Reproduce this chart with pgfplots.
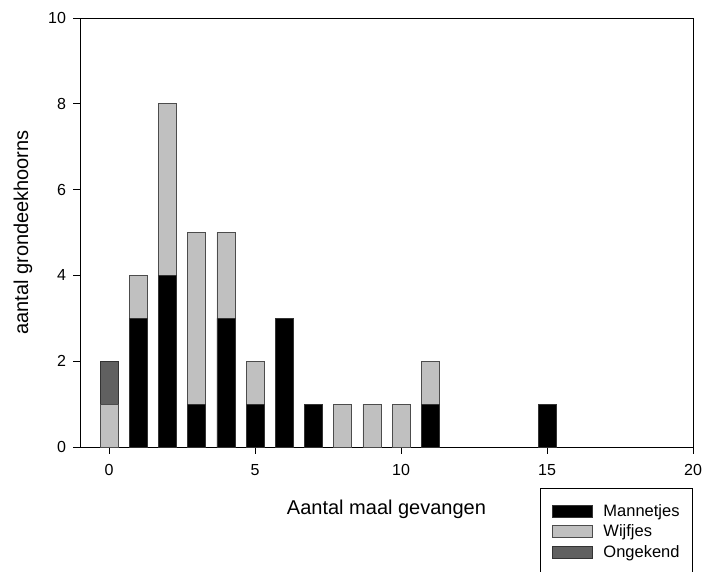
\documentclass[border=0pt]{standalone}
\usepackage{pgfplots}
\pgfplotsset{compat=1.18}
\usepackage{fontspec}
\setmainfont{Liberation Sans}
\definecolor{wgray}{HTML}{C0C0C0}
\definecolor{ogray}{HTML}{606060}
\begin{document}
\begin{tikzpicture}
\begin{axis}[
  scale only axis,
  width=613pt, height=429pt,
  xmin=-1, xmax=20, ymin=0, ymax=10,
  enlargelimits=false,
  xtick={0,5,10,15,20}, ytick={0,2,4,6,8,10},
  tick pos=left, tick align=outside,
  major tick length=6.5pt,
  every tick/.style={black, line width=0.8pt},
  axis line style={line width=0.8pt},
  /pgf/number format/assume math mode=true,
  ticklabel style={font=\fontsize{16}{19}\selectfont},
  xticklabel style={yshift=-7pt},
  yticklabel style={xshift=-4pt},
  xlabel={Aantal maal gevangen},
  ylabel={aantal grondeekhoorns},
  label style={font=\fontsize{20}{24}\selectfont},
  xlabel style={at={(axis description cs:0.5,-0.1585)}, anchor=base},
  ylabel style={at={(axis description cs:-0.0848,0.5)}, anchor=base},
  ybar stacked, bar width=18pt,
  legend cell align=left,
  legend image code/.code={\draw[#1] (0pt,-6pt) rectangle (40pt,6pt);},
  legend style={at={(axis description cs:1,-0.0956)}, anchor=north east,
    draw=black, line width=0.8pt,
    font=\fontsize{16.5}{19}\selectfont,
    inner xsep=11pt, inner ysep=14pt,
    row sep=3pt,
    /tikz/every odd column/.append style={column sep=9pt}},
]
\addplot[fill=black, draw=black!80, line width=0.6pt] coordinates {
(0,0) (1,3) (2,4) (3,1) (4,3) (5,1) (6,3) (7,1) (8,0) (9,0) (10,0) (11,1) (15,1)};
\addplot[fill=wgray, draw=black!70, line width=0.6pt] coordinates {
(0,1) (1,1) (2,4) (3,4) (4,2) (5,1) (6,0) (7,0) (8,1) (9,1) (10,1) (11,1) (15,0)};
\addplot[fill=ogray, draw=black!80, line width=0.6pt] coordinates {
(0,1) (1,0) (2,0) (3,0) (4,0) (5,0) (6,0) (7,0) (8,0) (9,0) (10,0) (11,0) (15,0)};
\legend{Mannetjes, Wijfjes, Ongekend}
\end{axis}
\pgfresetboundingbox
\path (-80pt,-125pt) rectangle (623pt,447pt);
\end{tikzpicture}
\end{document}
